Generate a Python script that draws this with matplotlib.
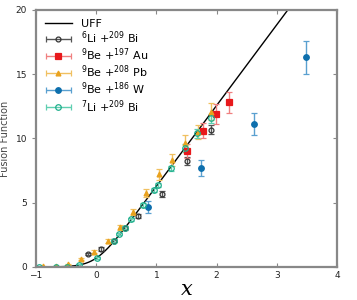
import numpy as np
import matplotlib.pyplot as plt
from matplotlib.legend_handler import HandlerErrorbar

# 6Li + 209Bi
li6_x = [-0.14, 0.075, 0.29, 0.485, 0.69, 1.09, 1.50, 1.90]
li6_y = [1.00, 1.40, 2.06, 3.06, 3.97, 5.68, 8.27, 10.66]
li6_err = [0.10, 0.12, 0.12, 0.15, 0.18, 0.20, 0.30, 0.35]

# 9Be + 197Au
au_x = [1.51, 1.77, 1.985, 2.21]
au_y = [9.05, 10.60, 11.90, 12.80]
au_err = [0.55, 0.57, 0.75, 0.83]

# 9Be + 208Pb
pb_x = [-0.89, -0.67, -0.47, -0.25, -0.04, 0.19, 0.40, 0.61, 0.83, 1.04, 1.26, 1.48, 1.69, 1.91]
pb_y = [0.05, 0.05, 0.20, 0.60, 1.20, 2.05, 3.09, 4.28, 5.78, 7.20, 8.33, 9.63, 10.50, 12.08]
pb_err = [0.02, 0.02, 0.05, 0.08, 0.10, 0.15, 0.20, 0.25, 0.30, 0.40, 0.45, 0.65, 0.55, 0.65]

# 9Be + 186W
w_x = [0.855, 1.74, 2.62, 3.49]
w_y = [4.65, 7.68, 11.13, 16.30]
w_err = [0.45, 0.62, 0.84, 1.30]

# 7Li + 209Bi
li7_x = [-0.955, -0.67, -0.48, -0.29, 0.01, 0.29, 0.38, 0.485, 0.57, 0.77, 0.955, 1.03, 1.25, 1.47, 1.68, 1.90]
li7_y = [0.0, 0.0, 0.0, 0.15, 0.72, 2.06, 2.57, 3.06, 3.70, 4.82, 5.99, 6.38, 7.68, 9.24, 10.40, 11.57]
li7_err = [0.02, 0.02, 0.02, 0.05, 0.08, 0.10, 0.10, 0.12, 0.12, 0.15, 0.18, 0.18, 0.20, 0.30, 0.35, 0.35]

# universal fusion function F0(x) = ln(1 + exp(2 pi x))
ufx = np.linspace(-1, 3.3, 400)
ufy = np.log1p(np.exp(2 * np.pi * ufx))

fig = plt.figure(figsize=(3.57, 3.0), dpi=100)
ax = fig.add_axes([0.101, 0.11, 0.843, 0.857])

ax.plot(ufx, ufy, color="black", lw=1.0, label="UFF")

series = [
    (li6_x, li6_y, li6_err, r"$^{6}$Li +$^{209}$ Bi", "o", "#333333", "#555555", "none", 3.5),
    (au_x, au_y, au_err, r"$^{9}$Be +$^{197}$ Au", "s", "#e8191c", "#f08080", "#e8191c", 4),
    (pb_x, pb_y, pb_err, r"$^{9}$Be +$^{208}$ Pb", "^", "#e9a21e", "#f0c060", "#e9a21e", 3.5),
    (w_x, w_y, w_err, r"$^{9}$Be +$^{186}$ W", "o", "#0d6fad", "#5aa0d0", "#0d6fad", 4),
    (li7_x, li7_y, li7_err, r"$^{7}$Li +$^{209}$ Bi", "o", "#1fae8c", "#5fcfb0", "none", 4),
]
handles, labels = ax.get_legend_handles_labels()
for x, y, e, lab, m, c, ec, fc, ms in series:
    kw = dict(fmt=m, color=c, ecolor=ec, mfc=fc, mec=c, ms=ms, mew=0.9,
              elinewidth=1.0, capsize=2.5, capthick=1.0)
    ax.errorbar(x, y, yerr=e, **kw)
    # legend proxy with a horizontal bar, like the original key
    proxy = ax.errorbar([np.nan], [np.nan], xerr=[1], **kw)
    handles.append(proxy)
    labels.append(lab)

ax.set_xlim(-1, 4)
ax.set_ylim(0, 20)
ax.set_xticks([-1, 0, 1, 2, 3, 4])
ax.set_yticks([0, 5, 10, 15, 20])
ax.set_xlabel("x", fontsize=15, family="DejaVu Serif", style="italic", labelpad=0)
ax.set_ylabel("Fusion Function", fontsize=7, color="#444444", labelpad=4)

for s in ax.spines.values():
    s.set_color("#888888")
    s.set_linewidth(1.6)
ax.tick_params(axis="x", direction="in", top=True, length=3, color="#888888",
               labelsize=6.5, labelcolor="#222222", pad=3)
ax.tick_params(axis="y", direction="out", left=True, right=False, length=3,
               color="#888888", labelsize=6.5, labelcolor="#222222")
sec = ax.secondary_yaxis("right")
sec.set_yticks([0, 5, 10, 15, 20])
sec.tick_params(direction="in", length=3, color="#888888", labelright=False)
sec.spines["right"].set_visible(False)

ax.legend(handles, labels, loc="upper left", frameon=False, fontsize=8,
          handlelength=2.4, labelspacing=0.05, borderaxespad=0.4,
          handletextpad=0.8, handler_map={type(handles[-1]): HandlerErrorbar(xerr_size=1.1)})

fig.savefig("out.png", dpi=100)
